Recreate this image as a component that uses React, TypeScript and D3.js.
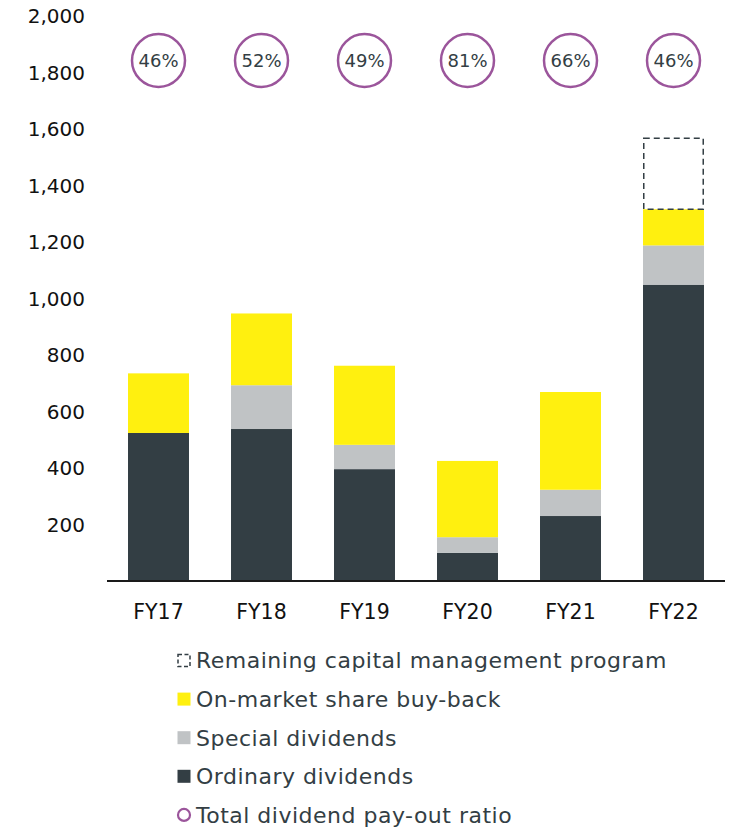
import React from "react";
import * as d3 from "d3";

const categories = ["FY17", "FY18", "FY19", "FY20", "FY21", "FY22"];
const ordinary = [524, 538, 396, 100, 230, 1049];
const special = [0, 155, 86, 55, 93, 139];
const buyback = [211, 254, 280, 270, 346, 128];
const remaining = [0, 0, 0, 0, 0, 251];
const payout = ["46%", "52%", "49%", "81%", "66%", "46%"];
const yTicks = [200, 400, 600, 800, 1000, 1200, 1400, 1600, 1800, 2000];

const legendItems = [
  { label: "Remaining capital management program", kind: "dashed" },
  { label: "On-market share buy-back", kind: "buyback" },
  { label: "Special dividends", kind: "special" },
  { label: "Ordinary dividends", kind: "ordinary" },
  { label: "Total dividend pay-out ratio", kind: "circle" },
];

const COLORS: Record<string, string> = {
  ordinary: "#333e44",
  special: "#c0c3c5",
  buyback: "#fff00f",
};
const PURPLE = "#9b559b";
const TEXT = "#333e44";
const FONT = "'DejaVu Sans', sans-serif";

export default function App() {
  const W = 730;
  const H = 827;
  const x = d3.scaleBand<string>().domain(categories).range([107, 725]).paddingInner(0.408).paddingOuter(0.204);
  const y = d3.scaleLinear().domain([0, 2000]).range([581, 16]);

  const rows = categories.map((c, i) => ({
    c,
    ordinary: ordinary[i],
    special: special[i],
    buyback: buyback[i],
  }));
  const stack = d3.stack<any>().keys(["ordinary", "special", "buyback"])(rows);
  const bw = x.bandwidth();

  return (
    <svg width={W} height={H} style={{ position: "absolute", left: 0, top: 0, background: "#fff" }} fontFamily={FONT}>
      {yTicks.map((t) => (
        <text key={t} x={85} y={y(t)} dy="0.36em" textAnchor="end" fontSize={20} fill="#111">
          {d3.format(",")(t)}
        </text>
      ))}
      {stack.map((layer) => (
        <g key={layer.key} fill={COLORS[layer.key]}>
          {layer.map((d, i) =>
            d[1] - d[0] > 0 ? (
              <rect key={i} x={x(categories[i])} y={y(d[1])} width={bw} height={y(d[0]) - y(d[1])} />
            ) : null
          )}
        </g>
      ))}
      {categories.map((c, i) => {
        if (!remaining[i]) return null;
        const top = ordinary[i] + special[i] + buyback[i];
        return (
          <rect
            key={c}
            x={x(c)! + 0.75}
            y={y(top + remaining[i])}
            width={bw - 1.5}
            height={y(top) - y(top + remaining[i])}
            fill="none"
            stroke={TEXT}
            strokeWidth={1.5}
            strokeDasharray="6 4"
          />
        );
      })}
      <line x1={107} x2={725} y1={581} y2={581} stroke="#1a1a1a" strokeWidth={2} />
      {categories.map((c) => (
        <text key={c} x={x(c)! + bw / 2} y={612} dy="0.36em" textAnchor="middle" fontSize={20.5} fill="#111">
          {c}
        </text>
      ))}
      {categories.map((c, i) => (
        <g key={c} transform={`translate(${x(c)! + bw / 2},60.5)`}>
          <circle r={26.5} fill="none" stroke={PURPLE} strokeWidth={2.5} />
          <text dy="0.36em" textAnchor="middle" fontSize={18} fill={TEXT}>
            {payout[i]}
          </text>
        </g>
      ))}
      {legendItems.map((it, i) => {
        const cy = 660.5 + i * 38.6;
        let marker;
        if (it.kind === "dashed") {
          marker = (
            <rect x={178} y={cy - 6} width={12} height={12} fill="none" stroke={TEXT} strokeWidth={1.5} strokeDasharray="4 2.5" />
          );
        } else if (it.kind === "circle") {
          marker = <circle cx={184} cy={cy} r={6} fill="none" stroke={PURPLE} strokeWidth={2.2} />;
        } else {
          marker = <rect x={177.5} y={cy - 6.5} width={13} height={13} fill={COLORS[it.kind]} />;
        }
        return (
          <g key={it.label}>
            {marker}
            <text x={196} y={cy} dy="0.36em" fontSize={22} letterSpacing={0.5} fill={TEXT}>
              {it.label}
            </text>
          </g>
        );
      })}
    </svg>
  );
}
